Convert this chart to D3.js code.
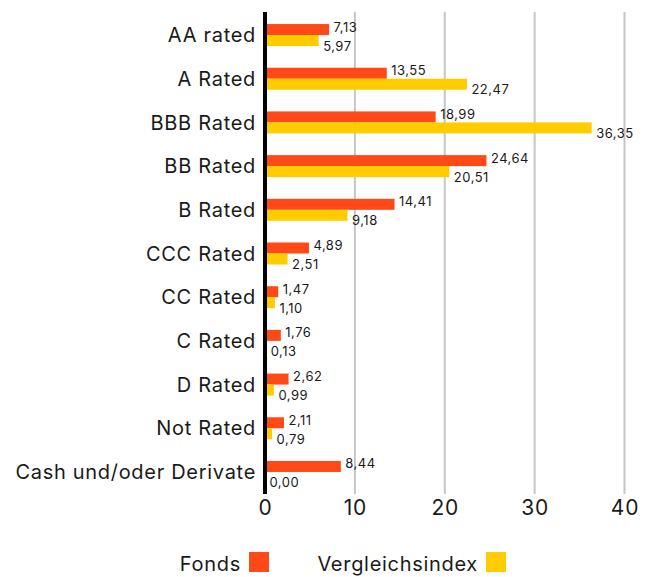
<!DOCTYPE html>
<html>
<head>
<meta charset="utf-8">
<script src="https://cdn.jsdelivr.net/npm/d3@7"></script>
<style>
  body { margin: 0; background: #fff; }
  text { font-family: Inter, "Noto Sans", sans-serif; fill: #1a1a1a; }
</style>
</head>
<body>
<svg id="chart"></svg>
<script>
var categories = ["AA rated", "A Rated", "BBB Rated", "BB Rated", "B Rated", "CCC Rated",
    "CC Rated", "C Rated", "D Rated", "Not Rated", "Cash und/oder Derivate"];
var fonds = [7.13, 13.55, 18.99, 24.64, 14.41, 4.89, 1.47, 1.76, 2.62, 2.11, 8.44];
var vergleich = [5.97, 22.47, 36.35, 20.51, 9.18, 2.51, 1.10, 0.13, 0.99, 0.79, 0.00];
var seriesNames = ["Fonds", "Vergleichsindex"];
var seriesColors = ["#ff4a17", "#ffcc00"];
var xTicks = [0, 10, 20, 30, 40];

var width = 653, height = 577;
var svg = d3.select("#chart").attr("width", width).attr("height", height);

var x = d3.scaleLinear().domain([0, 40]).range([265, 624.5]);
var y = d3.scaleBand().domain(categories).range([13.2, 493.8]).padding(0);
var yInner = d3.scaleBand().domain(seriesNames)
    .range([y.bandwidth() / 2 - 11, y.bandwidth() / 2 + 11]);

var rows = categories.map(function(c, i) {
    return {cat: c, values: [fonds[i], vergleich[i]]};
});

// grid
svg.append("g")
    .selectAll("line")
    .data(xTicks.filter(d => d > 0))
    .enter().append("line")
    .attr("x1", d => x(d)).attr("x2", d => x(d))
    .attr("y1", 12).attr("y2", 494)
    .attr("stroke", "#c6c6c6")
    .attr("stroke-width", 2);

// bars
var group = svg.append("g").selectAll("g")
    .data(rows)
    .enter().append("g")
    .attr("transform", d => "translate(0," + y(d.cat) + ")");

group.selectAll("rect")
    .data(d => d.values.map((v, i) => ({name: seriesNames[i], value: v, i: i})))
    .enter().append("rect")
    .attr("x", x(0))
    .attr("y", d => yInner(d.name))
    .attr("width", d => x(d.value) - x(0))
    .attr("height", yInner.bandwidth())
    .attr("fill", d => seriesColors[d.i]);

group.selectAll("text.val")
    .data(d => d.values.map((v, i) => ({name: seriesNames[i], value: v, i: i})))
    .enter().append("text")
    .attr("class", "val")
    .attr("x", d => x(d.value) + 4.5)
    .attr("y", d => d.i === 0 ? yInner(d.name) + yInner.bandwidth() - 3.5
                              : yInner(d.name) + yInner.bandwidth() + 4.5)
    .style("font-size", "13px")
    .style("letter-spacing", "0.5px")
    .text(d => d.value.toFixed(2).replace(".", ","));

// category labels
svg.append("g")
    .selectAll("text")
    .data(categories)
    .enter().append("text")
    .attr("x", 256)
    .attr("y", d => y(d) + y.bandwidth() / 2)
    .attr("dy", "0.36em")
    .attr("text-anchor", "end")
    .style("font-size", "20px")
    .style("letter-spacing", "0.7px")
    .text(d => d);

// zero axis
svg.append("line")
    .attr("x1", x(0)).attr("x2", x(0))
    .attr("y1", 12).attr("y2", 494)
    .attr("stroke", "#000")
    .attr("stroke-width", 4);

// x axis
var xAxis = svg.append("g")
    .attr("transform", "translate(0,494)")
    .call(d3.axisBottom(x).tickValues(xTicks).tickSize(0).tickPadding(6));
xAxis.select(".domain").remove();
xAxis.selectAll("text")
    .style("font-size", "21px")
    .style("letter-spacing", "0.8px")
    .style("font-family", "Inter, 'Noto Sans', sans-serif")
    .attr("fill", "#1a1a1a");

// legend
var legendX = [241, 478];
var legend = svg.append("g").selectAll("g")
    .data(seriesNames)
    .enter().append("g")
    .attr("transform", (d, i) => "translate(" + legendX[i] + ",552)");
legend.append("text")
    .attr("x", 0)
    .attr("y", 19)
    .attr("text-anchor", "end")
    .style("font-size", "20px")
    .style("letter-spacing", "0.7px")
    .text(d => d);
legend.append("rect")
    .attr("x", 8).attr("y", 0)
    .attr("width", 20).attr("height", 20)
    .attr("fill", (d, i) => seriesColors[i]);
</script>
</body>
</html>
